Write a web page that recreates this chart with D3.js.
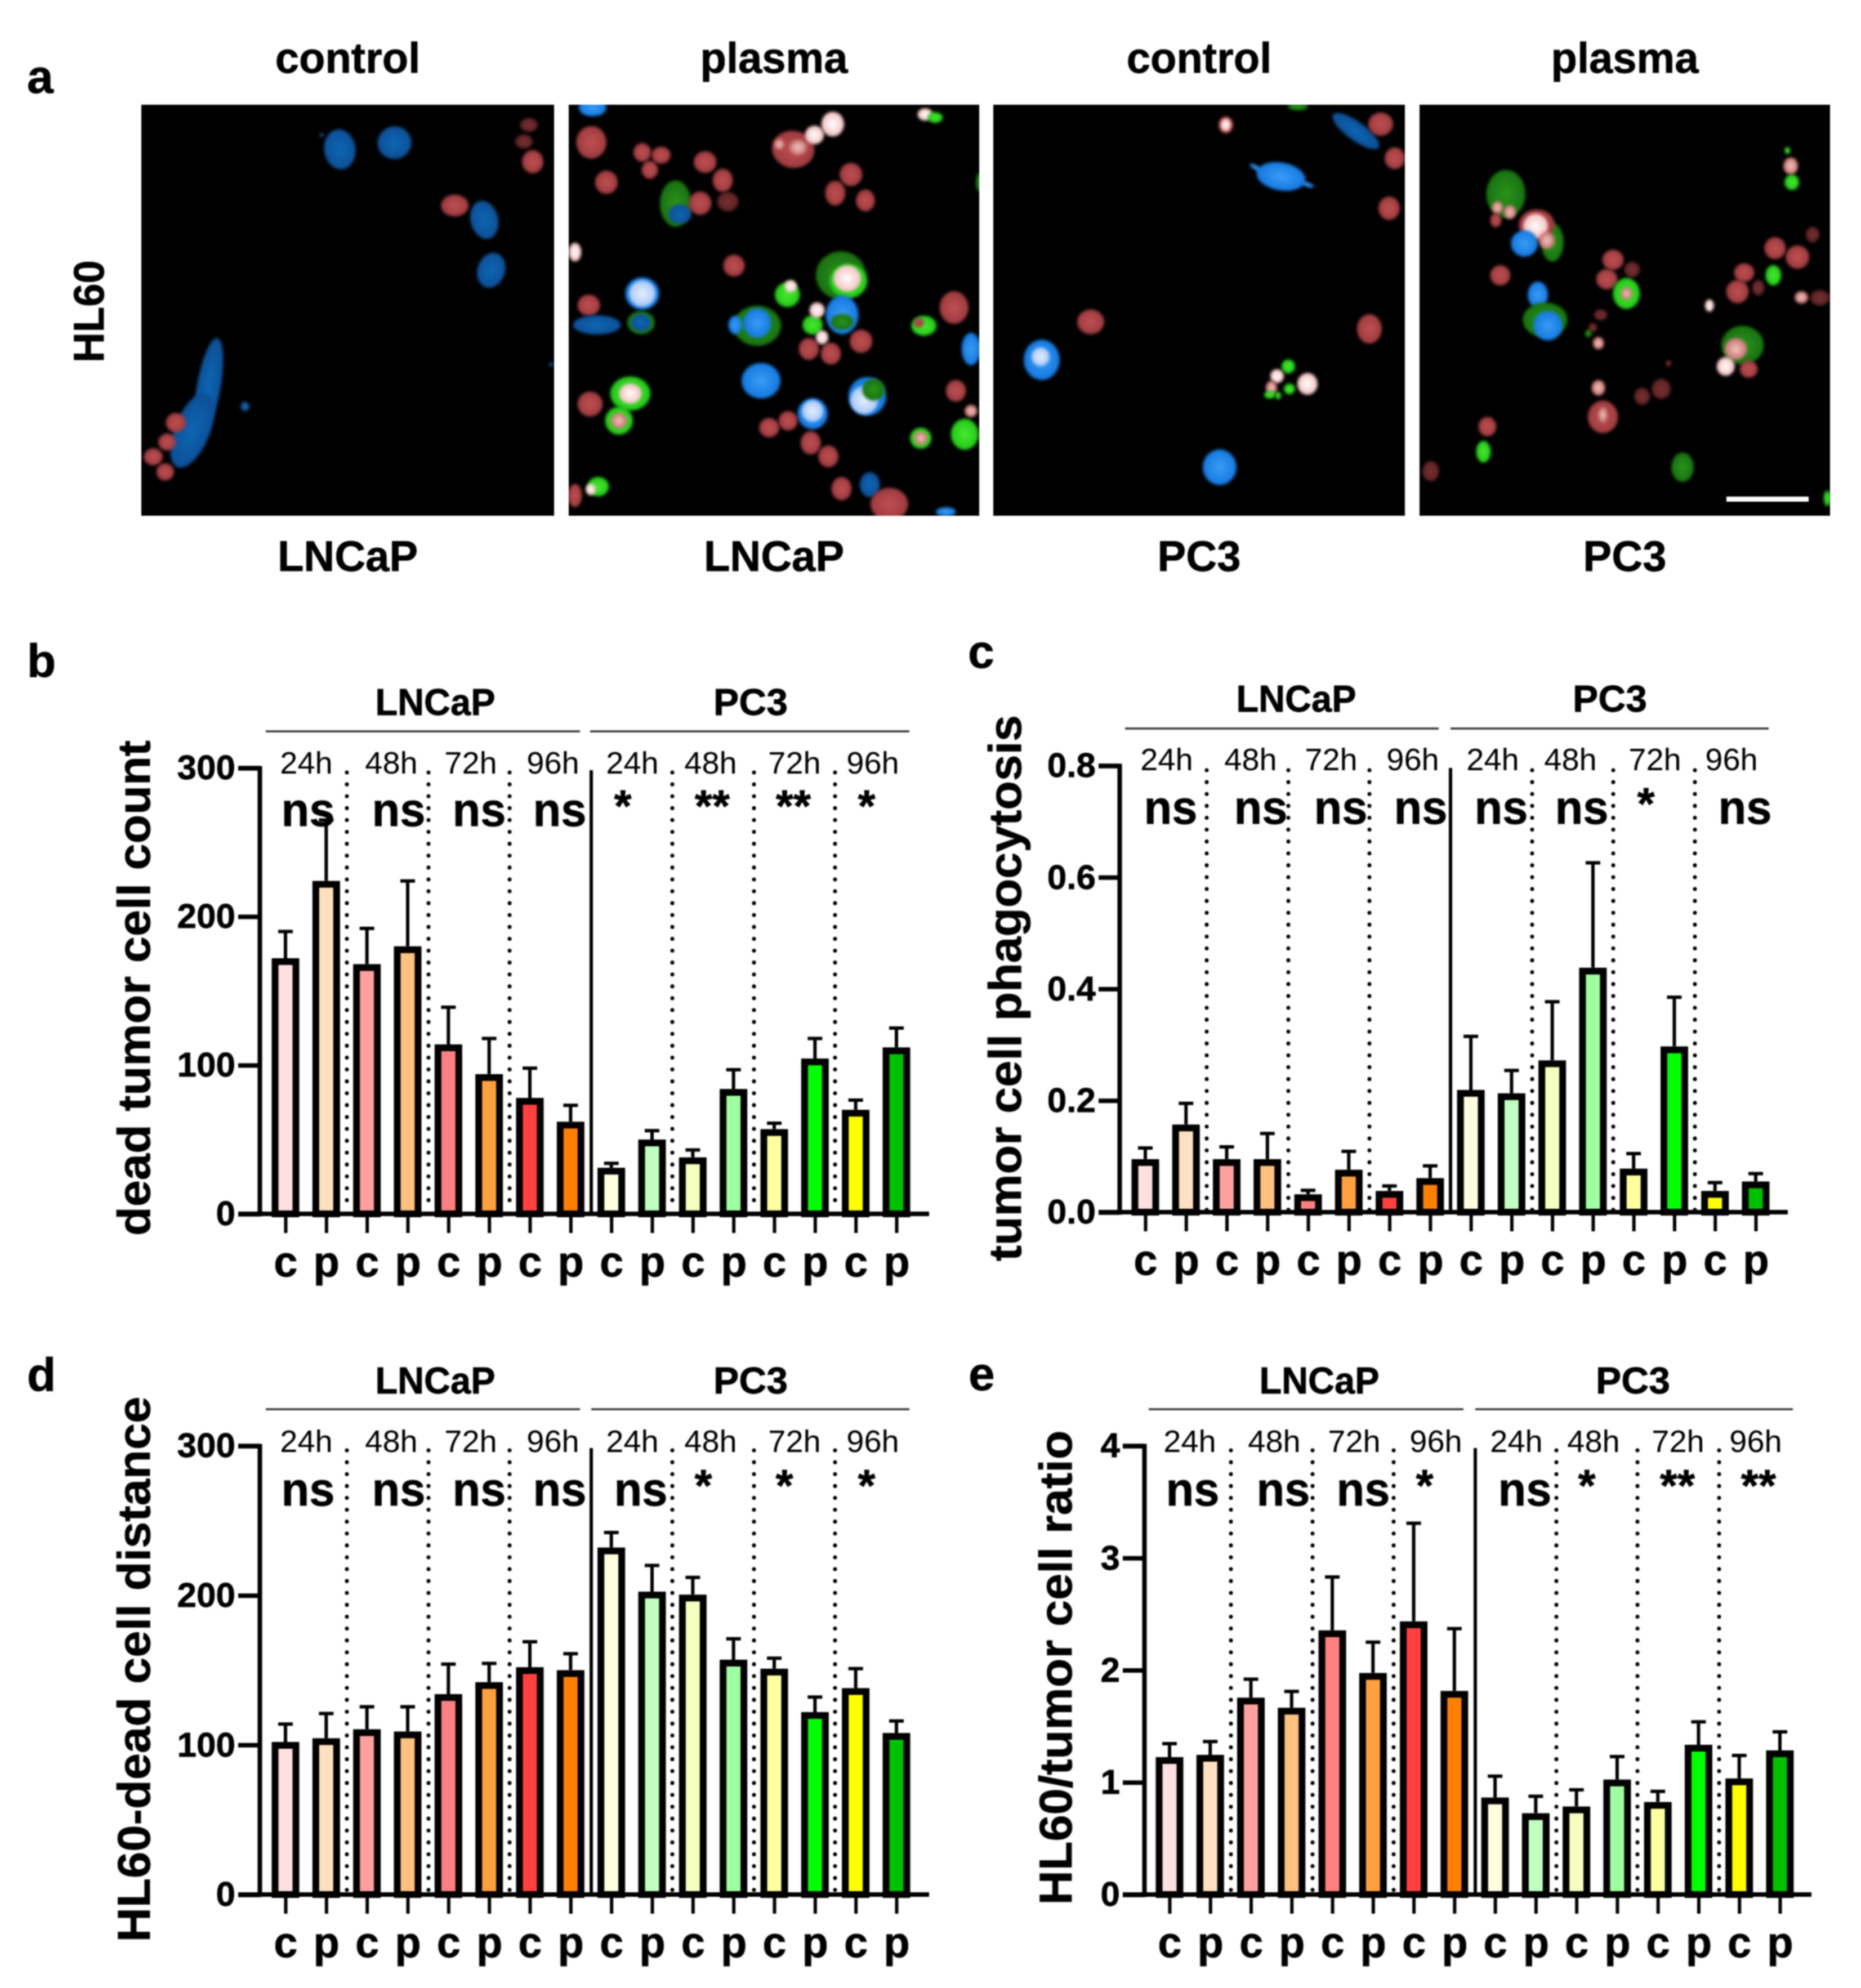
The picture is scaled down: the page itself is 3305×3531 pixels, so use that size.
<!DOCTYPE html>
<html>
<head>
<meta charset="utf-8">
<script src="https://cdn.jsdelivr.net/npm/d3@7"></script>
<style>
  body { margin: 0; background: #fff; }
  svg { display: block; font-family: "Liberation Sans", Arial, sans-serif; filter: blur(0.8px); }
</style>
</head>
<body>
<div id="figure"></div>
<script>
// bar categories, two per time point
const conditions = ["c", "p", "c", "p", "c", "p", "c", "p", "c", "p", "c", "p", "c", "p", "c", "p"];
const times = ["24h", "48h", "72h", "96h", "24h", "48h", "72h", "96h"];
const barColors = ["#ffe0e0", "#ffe0c0", "#ffa0a0", "#ffc080", "#ff8080", "#ffa040", "#ff4040", "#ff8000",
    "#ffffe0", "#c0ffc0", "#f6ffc0", "#a0ffa0", "#ffffa0", "#00ff00", "#ffff00", "#00c000"];

// values (mean, top of the error bar)
const deadCount = [172, 224, 168, 180, 114, 94, 78, 62, 31, 50, 38, 84, 57, 104.5, 70, 112];
const deadCountErr = [190, 265, 192, 224, 139, 118, 98, 73, 34, 56, 43, 97, 61, 118, 76.5, 125];
const phagocytosis = [.095, .157, .095, .095, .032, .076, .038, .061, .219, .213, .272, .438, .078, .297, .038, .055];
const phagocytosisErr = [.115, .195, .117, .141, .039, .109, .047, .083, .315, .254, .377, .626, .105, .385, .053, .069];
const distance = [102, 104.5, 110.5, 109, 134, 142, 152, 150, 232, 202.5, 200.5, 157, 151, 122, 138, 108];
const distanceErr = [114, 121, 125.5, 125.5, 154, 154.5, 169, 161, 242, 220, 212, 171, 158, 132, 151, 116];
const ratio = [1.225, 1.245, 1.755, 1.665, 2.355, 1.975, 2.435, 1.815, .865, .725, .785, 1.025, .825, 1.335, 1.035, 1.285];
const ratioErr = [1.345, 1.364, 1.92, 1.81, 2.83, 2.25, 3.31, 2.37, 1.055, .876, .933, 1.23, .92, 1.54, 1.24, 1.45];

// significance marks per time point
const sigB = ["ns", "ns", "ns", "ns", "*", "**", "**", "*"];
const sigC = ["ns", "ns", "ns", "ns", "ns", "ns", "*", "ns"];
const sigD = ["ns", "ns", "ns", "ns", "ns", "*", "*", "*"];
const sigE = ["ns", "ns", "ns", "*", "ns", "*", "**", "**"];

// microscopy cells, in crop coordinates: x, y, rx, ry, kind, rotation
const cellsLncapControl = [
    [541, 385, 25, 52, "b", -8], [628, 368, 27, 42, "b", -8], [771, 567, 22, 50, "b", -14], [782, 697, 22, 46, "b", 18],
    [332, 1000, 19, 130, "b", 10], [306, 1110, 28, 102, "b", 22],
    [390, 1048, 7, 12, "b", 0], [512, 348, 3, 5, "b", 0], [877, 940, 3, 5, "b", 0],
    [842, 322, 14, 18, "R", 0], [834, 365, 14, 18, "R", 0], [848, 417, 17, 30, "r", 0], [724, 530, 22, 28, "r", 0],
    [280, 1090, 16, 25, "r", 0], [266, 1140, 14, 22, "r", 0], [244, 1178, 15, 22, "r", 0], [263, 1217, 14, 22, "r", 0]
];
const cellsLncapPlasma = [
    [943, 278, 22, 22, "B", 0], [941, 367, 24, 42, "r", 0], [1022, 393, 14, 24, "r", 0], [1052, 400, 15, 22, "r", 0],
    [1034, 438, 13, 23, "r", 0], [965, 470, 18, 30, "r", 0], [1122, 418, 18, 28, "r", 0], [1150, 465, 16, 30, "r", 0],
    [1158, 520, 17, 25, "R", 0], [1354, 450, 18, 30, "r", 0], [1329, 498, 16, 32, "r", 0], [1377, 517, 15, 28, "r", 0],
    [1075, 525, 25, 60, "g", 0], [1082, 552, 18, 25, "b", 0], [1114, 524, 18, 30, "r", 0],
    [1262, 385, 34, 48, "r", 10], [1270, 380, 14, 20, "p", 0], [1240, 372, 8, 14, "p", 0], [1296, 348, 15, 24, "w", 0], [1325, 320, 18, 32, "w", 0],
    [1472, 295, 12, 16, "w", 0], [1488, 303, 12, 14, "G", 0], [1557, 470, 4, 24, "g", 0],
    [915, 650, 10, 24, "w", 0], [1168, 685, 17, 28, "r", 0], [937, 787, 18, 27, "r", 0], [1518, 793, 23, 42, "r", 0],
    [1338, 710, 40, 62, "g", 0], [1350, 725, 30, 44, "G", 0], [1348, 718, 22, 34, "w", 0],
    [1022, 757, 27, 42, "B", 0], [1022, 757, 21, 34, "W", 0], [1253, 760, 20, 32, "G", 0], [1258, 738, 10, 16, "w", 0],
    [950, 838, 38, 25, "b", 0], [1020, 832, 22, 30, "g", 0], [1020, 832, 16, 22, "b", 0],
    [1205, 840, 38, 52, "g", 0], [1205, 833, 22, 38, "B", 0], [1170, 838, 11, 24, "B", 0],
    [1340, 812, 26, 50, "B", 0], [1340, 830, 18, 20, "g", 0], [1293, 838, 16, 25, "G", 0], [1300, 800, 12, 20, "w", 0],
    [1370, 880, 18, 30, "r", 0], [1287, 900, 16, 28, "r", 0], [1322, 912, 16, 28, "r", 0], [1308, 870, 10, 18, "w", 0],
    [1470, 840, 20, 26, "G", 0], [1462, 832, 8, 12, "r", 0], [1545, 900, 15, 42, "B", 0],
    [1211, 982, 31, 46, "B", 0], [1293, 1067, 24, 40, "B", 0], [1293, 1060, 17, 28, "W", 0],
    [1380, 1022, 30, 50, "B", 0], [1375, 1032, 22, 36, "W", 0], [1390, 1005, 18, 28, "g", 0],
    [939, 1042, 20, 32, "r", 0], [1521, 1008, 16, 28, "r", 0], [1003, 1015, 32, 44, "G", 0], [1003, 1015, 18, 26, "w", 0],
    [985, 1085, 22, 36, "G", 0], [985, 1085, 13, 20, "p", 0], [1224, 1103, 16, 25, "r", 0], [1254, 1085, 15, 25, "r", 0],
    [1290, 1142, 16, 30, "r", 0], [1318, 1177, 16, 28, "r", 0], [1465, 1130, 17, 27, "G", 0], [1465, 1130, 11, 17, "p", 0],
    [1535, 1120, 22, 40, "G", 0], [1545, 1060, 10, 16, "p", 0], [952, 1255, 17, 25, "G", 0], [940, 1262, 8, 15, "w", 0],
    [915, 1278, 11, 30, "r", 0], [1339, 1260, 16, 30, "r", 0], [1384, 1250, 16, 32, "b", 0], [1415, 1300, 30, 42, "r", 0],
    [1505, 1320, 16, 12, "B", 0]
];
const cellsPc3Control = [
    [437, 322, 13, 22, "r", 0], [437, 322, 9, 16, "w", 0], [565, 275, 18, 10, "g", 0], [668, 338, 50, 24, "b", 36],
    [712, 320, 22, 30, "r", 0], [737, 408, 18, 28, "r", 0], [727, 537, 19, 30, "r", 0], [197, 830, 24, 32, "r", 0],
    [692, 848, 22, 38, "r", 0], [535, 455, 44, 36, "B", 10], [490, 432, 12, 6, "B", 30], [582, 476, 12, 6, "B", 20],
    [110, 928, 32, 52, "B", 0], [108, 920, 16, 24, "W", 0],
    [426, 1205, 30, 46, "B", 0], [582, 990, 18, 28, "w", 0], [528, 970, 12, 18, "w", 0], [548, 945, 12, 18, "G", 0],
    [518, 1000, 10, 18, "p", 0], [550, 1003, 10, 14, "G", 0], [515, 1018, 10, 10, "G", 0], [530, 1020, 5, 10, "G", 0]
];
const cellsPc3Plasma = [
    [935, 500, 35, 62, "g", 0], [920, 535, 10, 16, "p", 0], [942, 547, 11, 18, "p", 0], [917, 568, 10, 18, "r", 0],
    [1018, 625, 20, 50, "g", 0], [990, 580, 32, 40, "r", 0], [988, 583, 22, 32, "w", 0], [968, 628, 24, 34, "B", 0],
    [1008, 620, 14, 22, "p", 0], [992, 760, 18, 34, "B", 0], [1005, 825, 40, 45, "g", 0], [1010, 840, 26, 38, "B", 0],
    [925, 710, 18, 26, "r", 0], [1126, 670, 19, 26, "r", 0], [1160, 695, 14, 20, "R", 0], [1115, 720, 19, 26, "r", 0],
    [1150, 757, 24, 40, "G", 0], [1150, 757, 10, 16, "p", 0], [1415, 640, 19, 28, "r", 0], [1455, 663, 21, 30, "r", 0],
    [1360, 703, 18, 24, "r", 0], [1348, 752, 20, 30, "r", 0], [1385, 742, 11, 20, "R", 0], [1412, 710, 14, 26, "G", 0],
    [1482, 605, 12, 20, "R", 0], [1443, 428, 13, 22, "p", 0], [1445, 470, 13, 20, "G", 0], [1437, 388, 5, 9, "G", 0],
    [1298, 788, 8, 16, "w", 0], [1462, 767, 12, 16, "p", 0], [1495, 768, 17, 20, "R", 0], [1104, 812, 12, 14, "R", 0],
    [1090, 845, 8, 12, "R", 0], [1100, 885, 10, 16, "p", 0], [1082, 860, 6, 10, "g", 0], [1357, 890, 38, 50, "g", 0],
    [1345, 900, 20, 28, "p", 0], [1327, 945, 16, 24, "w", 0], [1368, 952, 16, 22, "r", 0], [1100, 1000, 12, 20, "p", 0],
    [1178, 1022, 14, 22, "R", 0], [1212, 1003, 17, 26, "R", 0], [1108, 1075, 27, 42, "r", 0], [1108, 1070, 8, 20, "p", 0],
    [902, 1100, 16, 25, "r", 0], [801, 1215, 15, 26, "R", 0], [895, 1165, 13, 28, "G", 0], [1250, 1205, 20, 38, "g", 0],
    [1508, 1285, 6, 20, "G", 0], [1225, 937, 5, 8, "R", 0]
];

// kind: edge colour, centre colour
const cellColors = {
    r: ["#9c3a40", "#bf5050"], R: ["#5c2226", "#78302f"], b: ["#0d4f96", "#0f66b4"], B: ["#1478e0", "#3a9cf5"],
    W: ["#a8c8f8", "#e8eefc"], g: ["#187010", "#2a9418"], G: ["#22c818", "#48e830"], w: ["#f4c0c0", "#ffffff"],
    p: ["#c87070", "#f0c8c0"]
};

const svg = d3.select("#figure")
    .append("svg")
    .attr("width", 3305)
    .attr("height", 3531);

const defs = svg.append("defs");
defs.append("filter").attr("id", "soft")
    .attr("x", "-30%").attr("y", "-30%").attr("width", "160%").attr("height", "160%")
    .append("feGaussianBlur").attr("stdDeviation", 2.5);
Object.entries(cellColors).forEach(([kind, c]) => {
    const g = defs.append("radialGradient").attr("id", "cell-" + kind);
    g.append("stop").attr("offset", "0%").attr("stop-color", c[1]);
    g.append("stop").attr("offset", "100%").attr("stop-color", c[0]);
});

function label(parent, x, y, text, size, opts = {}) {
    const weight = opts.weight || "bold";
    const t = parent.append("text")
        .attr("x", x).attr("y", y)
        .attr("font-size", size)
        .attr("font-weight", weight)
        .attr("text-anchor", opts.anchor || "middle")
        .text(text);
    if (weight == "bold") t.attr("stroke", "#000").attr("stroke-width", 0.8);
    if (opts.length) t.attr("textLength", opts.length).attr("lengthAdjust", "spacingAndGlyphs");
    if (opts.rotate) t.attr("transform", `rotate(-90, ${x}, ${y})`);
    return t;
}

// panel a
const micrographs = [
    { x0: 251, x1: 984, crop: [225, 882], cells: cellsLncapControl, top: "control", bottom: "LNCaP" },
    { x0: 1010, x1: 1739, crop: [905, 1558], cells: cellsLncapPlasma, top: "plasma", bottom: "LNCaP" },
    { x0: 1764, x1: 2495, crop: [24, 755], cells: cellsPc3Control, top: "control", bottom: "PC3" },
    { x0: 2521, x1: 3250, crop: [781, 1513], cells: cellsPc3Plasma, top: "plasma", bottom: "PC3" }
];
micrographs.forEach((m, i) => {
    const x = d3.scaleLinear().domain(m.crop).range([m.x0, m.x1]);
    const y = d3.scaleLinear().domain([270, 1330]).range([186, 916]);
    const sx = Math.abs(x(1) - x(0)), sy = Math.abs(y(1) - y(0));

    defs.append("clipPath").attr("id", "clip-" + i)
        .append("rect").attr("x", m.x0).attr("y", 186).attr("width", m.x1 - m.x0).attr("height", 730);
    const g = svg.append("g");
    g.append("rect").attr("x", m.x0).attr("y", 186).attr("width", m.x1 - m.x0).attr("height", 730).attr("fill", "#000");
    g.append("g").attr("clip-path", `url(#clip-${i})`)
        .selectAll("ellipse")
        .data(m.cells)
        .join("ellipse")
        .attr("rx", d => d[2] * sx)
        .attr("ry", d => d[3] * sy)
        .attr("transform", d => `translate(${x(d[0])}, ${y(d[1])}) rotate(${d[5]})`)
        .attr("fill", d => `url(#cell-${d[4]})`)
        .attr("filter", "url(#soft)");

    label(svg, (m.x0 + m.x1) / 2, 129, m.top, 76);
    label(svg, (m.x0 + m.x1) / 2, 1014, m.bottom, 76);
});
svg.append("rect").attr("x", 3066).attr("y", 882).attr("width", 146).attr("height", 9).attr("fill", "#fff");
label(svg, 184, 553, "HL60", 76, { rotate: true, length: 182 });
label(svg, 48, 165, "a", 84, { anchor: "start" });

// panels b to e
const panels = [
    {
        letter: "b", letterX: 48, letterY: 1203,
        values: deadCount, errors: deadCountErr, sig: sigB, max: 300, ticks: [0, 100, 200, 300], format: d3.format("d"),
        title: "dead tumor cell count", titleX: 266, titleY: 1755, titleLen: 880,
        axisX: 461, tickLeft: 423, right: 1650, top: 1364, bottom: 2156, first: 507, last: 1592, divider: 1050,
        dots: [616, 761, 905, 1194, 1339, 1483],
        lines: [[472, 1030], [1048, 1615]], lineY: 1299, groupX: [773, 1333], groupY: 1270,
        timeX: [544, 695, 836, 982, 1123, 1262, 1411, 1550], timeY: 1374,
        sigX: [547, 708, 851, 994, 1106, 1265, 1409, 1539], sigY: 1467
    },
    {
        letter: "c", letterX: 1719, letterY: 1186,
        values: phagocytosis, errors: phagocytosisErr, sig: sigC, max: 0.8, ticks: [0, .2, .4, .6, .8], format: d3.format(".1f"),
        title: "tumor cell phagocytosis", titleX: 1813, titleY: 1755, titleLen: 970,
        axisX: 1988, tickLeft: 1951, right: 3175, top: 1360, bottom: 2153, first: 2034, last: 3118, divider: 2576,
        dots: [2143, 2288, 2432, 2721, 2865, 3010],
        lines: [[1998, 2555], [2576, 3141]], lineY: 1294, groupX: [2302, 2859], groupY: 1264,
        timeX: [2072, 2221, 2364, 2509, 2651, 2789, 2939, 3075], timeY: 1368,
        sigX: [2079, 2239, 2381, 2523, 2666, 2809, 2923, 3099], sigY: 1463
    },
    {
        letter: "d", letterX: 48, letterY: 2471,
        values: distance, errors: distanceErr, sig: sigD, max: 300, ticks: [0, 100, 200, 300], format: d3.format("d"),
        title: "HL60-dead cell distance", titleX: 266, titleY: 2965, titleLen: 969,
        axisX: 461, tickLeft: 423, right: 1650, top: 2568, bottom: 3365, first: 507, last: 1592, divider: 1050,
        dots: [616, 761, 905, 1194, 1339, 1483],
        lines: [[472, 1030], [1050, 1615]], lineY: 2503, groupX: [773, 1333], groupY: 2475,
        timeX: [544, 695, 836, 982, 1123, 1262, 1411, 1550], timeY: 2579,
        sigX: [547, 708, 851, 994, 1138, 1249, 1393, 1539], sigY: 2674
    },
    {
        letter: "e", letterX: 1720, letterY: 2469,
        values: ratio, errors: ratioErr, sig: sigE, max: 4, ticks: [0, 1, 2, 3, 4], format: d3.format("d"),
        title: "HL60/tumor cell ratio", titleX: 1903, titleY: 2962, titleLen: 843,
        axisX: 2032, tickLeft: 1994, right: 3217, top: 2568, bottom: 3365, first: 2077, last: 3161, divider: 2620,
        dots: [2186, 2331, 2475, 2764, 2908, 3053],
        lines: [[2040, 2599], [2620, 3184]], lineY: 2503, groupX: [2343, 2900], groupY: 2475,
        timeX: [2113, 2263, 2405, 2550, 2693, 2830, 2980, 3118], timeY: 2579,
        sigX: [2118, 2279, 2421, 2530, 2708, 2818, 2979, 3123], sigY: 2674
    }
];

const barWidth = 49, barStroke = 12;

panels.forEach(p => {
    const x = d3.scalePoint().domain(d3.range(conditions.length)).range([p.first, p.last]);
    const y = d3.scaleLinear().domain([0, p.max]).range([p.bottom, p.top]);
    const g = svg.append("g");

    label(g, p.letterX, p.letterY, p.letter, 84, { anchor: "start" });
    label(g, p.titleX, p.titleY, p.title, 82, { rotate: true, length: p.titleLen });

    // cell line headers
    ["LNCaP", "PC3"].forEach((name, i) => {
        label(g, p.groupX[i], p.groupY, name, 66, { length: i ? 132 : 213 });
        g.append("line")
            .attr("x1", p.lines[i][0]).attr("x2", p.lines[i][1])
            .attr("y1", p.lineY).attr("y2", p.lineY)
            .attr("stroke", "#333").attr("stroke-width", 3.5);
    });

    times.forEach((t, i) => {
        label(g, p.timeX[i], p.timeY, t, 56, { weight: "normal" });
        const isNs = p.sig[i] == "ns";
        label(g, p.sigX[i], isNs ? p.sigY : p.sigY - 8, p.sig[i], isNs ? 84 : 80, { length: isNs ? 95 : null });
    });

    // separators
    g.selectAll(".dot-line")
        .data(p.dots)
        .join("line")
        .attr("class", "dot-line")
        .attr("x1", d => d).attr("x2", d => d)
        .attr("y1", p.top + 8).attr("y2", p.bottom - 4)
        .attr("stroke", "#000").attr("stroke-width", 7)
        .attr("stroke-linecap", "round").attr("stroke-dasharray", "0.1 21");
    g.append("line")
        .attr("x1", p.divider).attr("x2", p.divider)
        .attr("y1", p.top + 4).attr("y2", p.bottom)
        .attr("stroke", "#000").attr("stroke-width", 6);

    // error bars behind the bars
    const rows = p.values.map((v, i) => ({ i, v, e: p.errors[i] }));
    g.selectAll(".err")
        .data(rows)
        .join("path")
        .attr("class", "err")
        .attr("d", d => `M${x(d.i)},${y(d.v)}V${y(d.e)}M${x(d.i) - 13},${y(d.e)}H${x(d.i) + 13}`)
        .attr("fill", "none").attr("stroke", "#000").attr("stroke-width", 6);

    g.selectAll(".bar")
        .data(rows)
        .join("rect")
        .attr("class", "bar")
        .attr("x", d => x(d.i) - barWidth / 2 + barStroke / 2)
        .attr("y", d => y(d.v) + barStroke / 2)
        .attr("width", barWidth - barStroke)
        .attr("height", d => y(0) - y(d.v) - barStroke / 2)
        .attr("fill", d => barColors[d.i])
        .attr("stroke", "#000").attr("stroke-width", barStroke);

    // y axis
    const yAxis = g.append("g")
        .attr("transform", `translate(${p.axisX}, 0)`)
        .call(d3.axisLeft(y).tickValues(p.ticks).tickFormat(p.format).tickSize(p.axisX - p.tickLeft).tickPadding(5));
    yAxis.selectAll("path, line").attr("stroke-width", 8).attr("stroke-linecap", "butt");
    yAxis.selectAll("text").attr("font-size", 62).attr("font-weight", "bold").attr("font-family", "inherit")
        .attr("fill", "#000").attr("stroke", "#000").attr("stroke-width", 0.8);

    // x axis
    const xAxis = g.append("g")
        .attr("transform", `translate(0, ${p.bottom})`)
        .call(d3.axisBottom(x).tickFormat(i => conditions[i]).tickSize(34));
    xAxis.select(".domain").remove();
    xAxis.selectAll("line").attr("stroke-width", 6);
    xAxis.selectAll("text")
        .attr("y", 111).attr("dy", 0)
        .attr("font-size", 76).attr("font-weight", "bold").attr("font-family", "inherit")
        .attr("fill", "#000").attr("stroke", "#000").attr("stroke-width", 0.8);
    g.append("line")
        .attr("x1", p.tickLeft).attr("x2", p.right)
        .attr("y1", p.bottom).attr("y2", p.bottom)
        .attr("stroke", "#000").attr("stroke-width", 8);
});
</script>
</body>
</html>
